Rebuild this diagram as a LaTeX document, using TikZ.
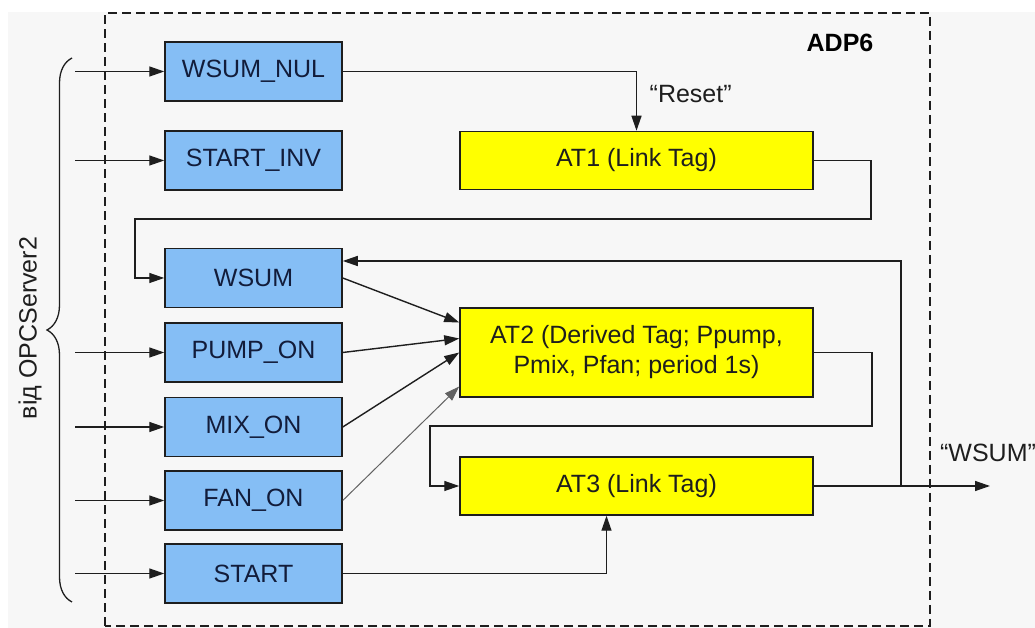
\documentclass[tikz,border=0pt]{standalone}
\usepackage{fontspec}
\setmainfont{Liberation Sans}
\usetikzlibrary{arrows.meta,positioning,decorations.pathreplacing}
\definecolor{boxblue}{RGB}{133,190,245}
\definecolor{tagyellow}{RGB}{255,255,0}
\definecolor{bgray}{RGB}{247,247,247}
\definecolor{inkdark}{RGB}{30,30,30}
\definecolor{navy}{RGB}{18,28,58}

\begin{document}
\begin{tikzpicture}[x=1pt, y=1pt,
    font=\fontsize{25}{30}\selectfont,
    every node/.style={inner sep=0pt},
    signal/.style={draw=inkdark, line width=1.5pt, fill=boxblue, text=navy, minimum width=177pt, minimum height=59pt},
    tagbox/.style={draw=inkdark, line width=1.5pt, fill=tagyellow, text=inkdark, minimum width=353pt, minimum height=58pt, align=center},
    arr/.style={draw=inkdark, line width=1.4pt, -{Triangle[length=15pt,width=10pt]}}]
  \useasboundingbox (0,0) rectangle (1035,628);
  \fill[bgray] (8,0) rectangle (1035,616);
  % ADP6 frame
  \draw[inkdark, line width=1.5pt, dash pattern=on 9pt off 5pt] (105,2) rectangle (930,615);
  \node[font=\fontsize{25}{30}\selectfont\bfseries] (adp) at (840,585) {ADP6};

  % signals from OPC server
  \node[signal] (wsumnul)  at (253.5,556.5) {WSUM\_NUL};
  \node[signal] (startinv) at (253.5,467.5) {START\_INV};
  \node[signal] (wsum)     at (253.5,350)   {WSUM};
  \node[signal] (pumpon)   at (253.5,275.5) {PUMP\_ON};
  \node[signal] (mixon)    at (253.5,201)   {MIX\_ON};
  \node[signal] (fanon)    at (253.5,127.5) {FAN\_ON};
  \node[signal] (start)    at (253.5,54.5)  {START};

  % tags
  \node[tagbox] (at1) at (636.5,467.5) {AT1 (Link Tag)};
  \node[tagbox, minimum height=89pt] (at2) at (636.5,275.5) {AT2 (Derived Tag; Ppump,\\Pmix, Pfan; period 1s)};
  \node[tagbox] (at3) at (636.5,142) {AT3 (Link Tag)};

  % source brace
  \draw[inkdark, line width=1.3pt, decorate, decoration={brace, amplitude=25pt}] (72,26) -- (72,570);
  \node[rotate=90, text=inkdark] (src) at (30,300) {від OPCServer2};

  \coordinate (inx) at (75,0);
  \foreach \n in {wsumnul,startinv,pumpon,mixon,fanon,start}
    \draw[arr] (inx |- \n.west) -- (\n.west);

  \draw[arr] (wsumnul.east) -| (at1.north);
  \node[text=inkdark, above right=28pt and 13pt of at1.north] (reset) {“Reset”};

  \coordinate (r1) at (871,409);
  \coordinate (l1) at (135,409);
  \draw[arr] (at1.east) -| (r1) -- (l1) |- (wsum.west);

  \draw[arr] (wsum.east) -- ([yshift=30pt]at2.west);
  \draw[arr] (pumpon.east) -- ([yshift=14pt]at2.west);
  \draw[arr] (mixon.east) -- (at2.west);
  \draw[arr, draw=gray!70!inkdark, line width=1pt] (fanon.east) -- ([yshift=-34pt]at2.west);

  \coordinate (r2) at (872,202);
  \coordinate (l2) at (430,202);
  \draw[arr] (at2.east) -| (r2) -- (l2) |- (at3.west);

  \draw[arr] (start.east) -| ([xshift=-30pt]at3.south);

  \coordinate (jn) at (901,142);
  \coordinate (out) at (990,142);
  \draw[arr] (at3.east) -- (out);
  \draw[arr] (jn) |- ([yshift=17pt]wsum.east);
  \node[text=inkdark] (wsumout) at (988,175) {“WSUM”};
\end{tikzpicture}
\end{document}
